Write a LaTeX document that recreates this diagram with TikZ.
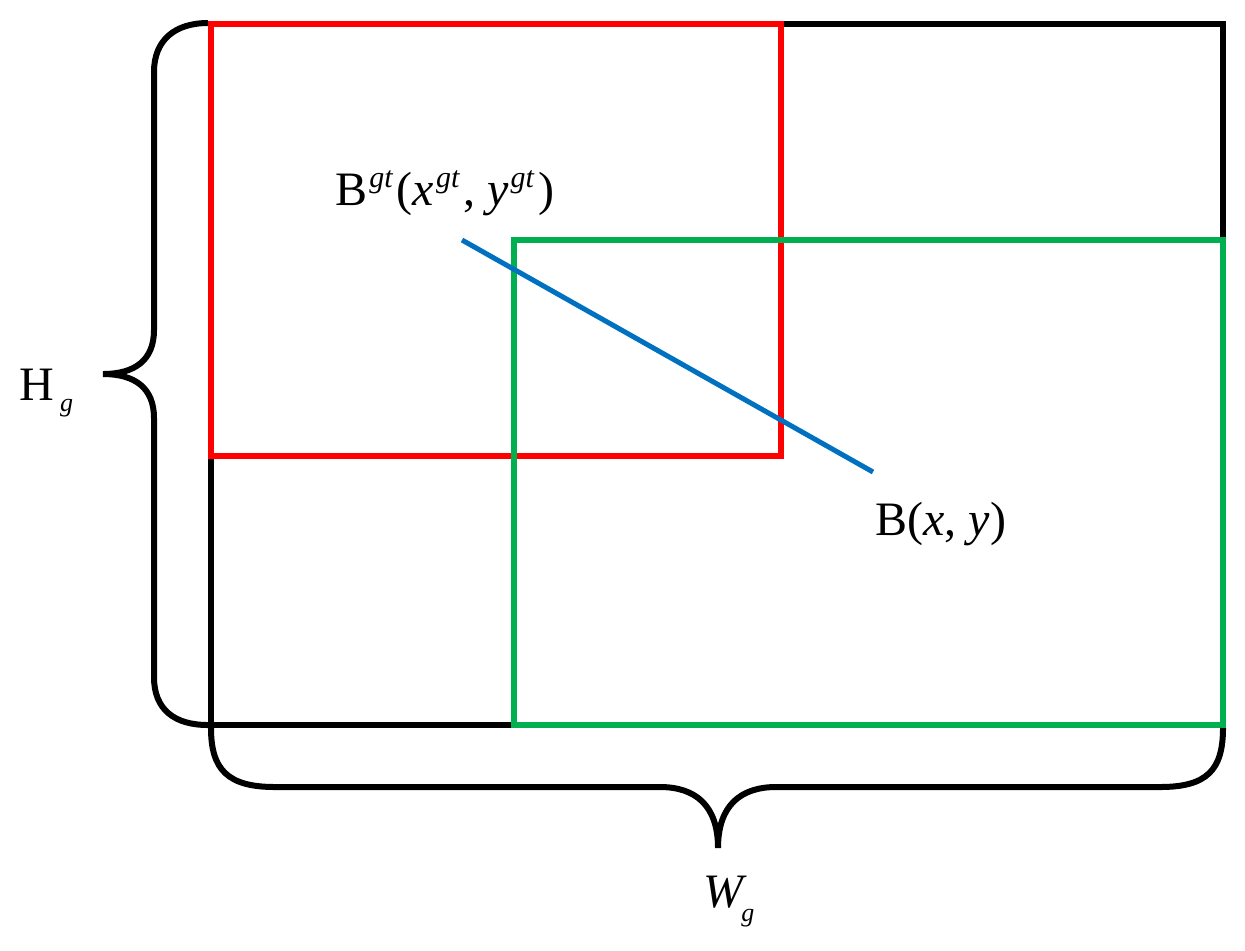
\documentclass[tikz,border=0pt]{standalone}
\usepackage{fontspec}
\setmainfont{Liberation Serif}
\definecolor{boxred}{RGB}{255,0,0}
\definecolor{boxgreen}{RGB}{0,176,80}
\definecolor{lineblue}{RGB}{0,112,192}
\newcommand{\mysup}[1]{\kern1pt\raisebox{9pt}{\fontsize{15}{15}\selectfont\itshape #1}\kern2pt}
\begin{document}
\begin{tikzpicture}[x=0.5pt,y=-0.5pt,
  frame/.style={line width=3pt,line join=miter},
  bracestyle/.style={line width=3pt,line cap=butt},
  lbl/.style={inner sep=0pt,font=\fontsize{24}{28}\selectfont}]
\useasboundingbox (0,0) rectangle (1245,950);
% corners
\coordinate (gtl) at (211,24);
\coordinate (gbr) at (1223,725);
\coordinate (rtl) at (211,24);
\coordinate (rbr) at (780.5,455.5);
\coordinate (ptl) at (514,240);
\coordinate (pbr) at (1223,725);
\draw[frame,black] (gtl) rectangle (gbr);
\draw[frame,boxred] (rtl) rectangle (rbr);
\draw[frame,boxgreen] (ptl) rectangle (pbr);
% centre line
\coordinate (cgt) at (462,240);
\coordinate (cp) at (873,472);
\draw[line width=2.5pt,lineblue] (cgt) -- (cp);
% left brace
\draw[bracestyle] (208,23) .. controls (175,23) and (154,40) .. (154,72) -- (154,330)
  .. controls (154,360) and (135,374) .. (103,374)
  .. controls (135,374) and (154,388) .. (154,418) -- (154,677)
  .. controls (154,710) and (175,725) .. (208,725);
% bottom brace
\draw[bracestyle] (211,728) .. controls (211,770) and (228,787) .. (275,787) -- (660,787)
  .. controls (695,787) and (718,805) .. (718,848)
  .. controls (718,805) and (741,787) .. (776,787) -- (1160,787)
  .. controls (1207,787) and (1223,770) .. (1223,728);
% labels
\node[lbl,anchor=base west] (hg) at (19,400) {H\kern3pt\raisebox{-5.5pt}{\fontsize{13}{13}\selectfont\itshape g}};
\node[lbl,anchor=base west] (wg) at (703,907) {\itshape W\kern-1pt\raisebox{-7pt}{\fontsize{13}{13}\selectfont g}};
\node[lbl,anchor=base west] (bgt) at (335,205) {B\mysup{gt}(\textit{x}\mysup{gt}, \textit{y}\mysup{gt})};
\node[lbl,anchor=base west] (bp) at (875,535) {B(\textit{x}, \textit{y})};
\end{tikzpicture}
\end{document}
